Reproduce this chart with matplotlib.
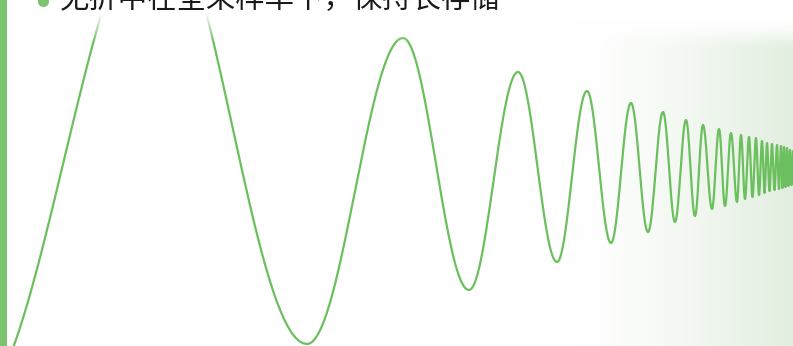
import numpy as np
import matplotlib
matplotlib.use("Agg")
import matplotlib.pyplot as plt

# ── Data (pixel units, y grows downward) ─────────────────────────────────────
peak_x = [158, 403, 518, 587, 631, 663, 686, 703, 719, 731, 741, 749, 756,
          762, 767, 772, 777, 781, 784, 787, 790, 793, 796]
peak_y = [-90, 38, 72, 91, 103, 112, 120, 125, 129, 133, 135, 137, 138,
          141, 143, 144, 145, 146, 147, 148, 150, 151, 152]
trough_x = [-30, 307, 469, 557, 611, 648, 675, 695, 712, 725, 737, 745, 752.5,
            759, 764.5, 769.5, 774.5, 779, 782.5, 785.5, 788.5, 791.5, 794.5]
trough_y = [410, 344, 290, 262, 243, 232, 222, 216, 209, 206, 202, 199, 197,
            195, 193, 191, 190, 189, 188, 187, 186, 185, 184]

title_text = "无折中在全采样率下，保持长存储"

W, H = 793, 346
LINE_GREEN = "#6cbf5e"
BAR_GREEN = "#7dc472"
TINT = np.array([0.886, 0.933, 0.875])

# merge extrema in x order
ext = sorted(zip(peak_x + trough_x, peak_y + trough_y))
ext_x = np.array([e[0] for e in ext], dtype=float)
ext_y = np.array([e[1] for e in ext], dtype=float)

# each half-wave between two extrema is drawn as a half cosine
xs, ys = [], []
for i in range(len(ext_x) - 1):
    x0, x1 = ext_x[i], ext_x[i + 1]
    y0, y1 = ext_y[i], ext_y[i + 1]
    s = np.linspace(0, 1, 40)
    xs.append(x0 + (x1 - x0) * s)
    ys.append(y0 + (y1 - y0) * (1 - np.cos(np.pi * s)) / 2)
xs = np.concatenate(xs)
ys = np.concatenate(ys)

fig = plt.figure(figsize=(W / 100, H / 100), dpi=100)
ax = fig.add_axes([0, 0, 1, 1])
ax.set_xlim(0, W)
ax.set_ylim(H, 0)
ax.axis("off")

# ── background: green tint on the right side ─────────────────────────────────
gx = np.arange(W)[None, :]
gy = np.arange(H)[:, None]
hx = np.clip((gx - 575) / (W - 575), 0, 1) ** 1.3
vy = np.clip((gy - 18) / 30, 0, 1)
alpha = hx * vy
bg = np.ones((H, W, 3)) * (1 - alpha[..., None]) + TINT * alpha[..., None]
ax.imshow(bg, extent=(0, W, H, 0), aspect="auto", zorder=0, interpolation="bilinear")

ax.plot(xs, ys, color=LINE_GREEN, lw=1.6, zorder=2, solid_capstyle="round")

# white fade over the top strip (behind the heading)
fade = np.zeros((H, W, 4))
fade[..., :3] = 1.0
fade[..., 3] = np.clip((42 - gy) / 30, 0, 1) * np.ones((1, W))
ax.imshow(fade, extent=(0, W, H, 0), aspect="auto", zorder=3, interpolation="bilinear")

# left accent bar
ax.axvspan(0, 7, color=BAR_GREEN, zorder=4, lw=0)

# heading (cut off at the top edge)
ax.plot([43], [1], "o", color=BAR_GREEN, ms=7, zorder=5, clip_on=True)
ax.text(60, 7.6, title_text, fontsize=21.2, color="#1a1a1a", va="baseline", ha="left",
        family=["Noto Sans CJK SC", "DejaVu Sans"], zorder=5)

fig.savefig("out.png", dpi=100)
